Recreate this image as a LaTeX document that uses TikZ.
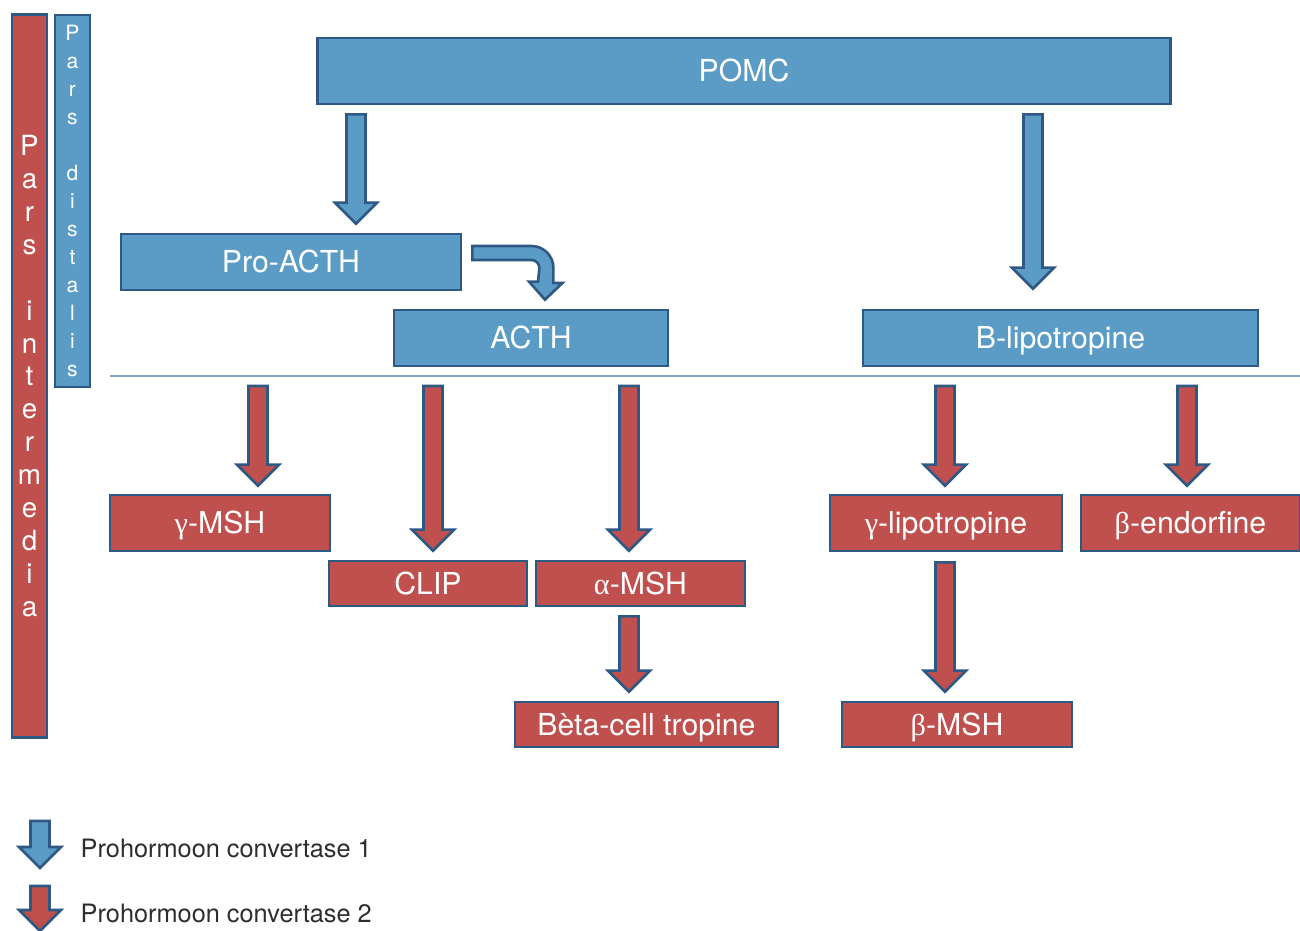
\documentclass[tikz,border=0pt]{standalone}
\usepackage{fontspec}
\setmainfont{TeX Gyre Heros}
\newfontfamily\grk{Liberation Serif}
\usetikzlibrary{calc}
\definecolor{pcblue}{RGB}{91,156,198}
\definecolor{pcred}{RGB}{192,80,78}
\definecolor{pcedge}{RGB}{46,89,132}
\definecolor{sepline}{RGB}{130,165,195}
\definecolor{legtext}{RGB}{45,45,45}
\tikzstyle{distalis} = [
    rectangle, draw=pcedge, fill=pcblue, line width=0.75pt,
    text=white, inner sep=0pt, font=\fontsize{8.6}{10}\selectfont,
    text height=6.2pt, text depth=0pt
]
\tikzstyle{intermedia} = [distalis, fill=pcred]
\tikzstyle{sidebar} = [distalis, text height=, text depth=, align=center]
\tikzstyle{pcone} = [draw=pcedge, fill=pcblue, line width=0.75pt, line join=miter]
\tikzstyle{pctwo} = [pcone, fill=pcred]
\tikzstyle{legend} = [anchor=west, inner sep=0pt, text=legtext,
    font=\fontsize{7.2}{8.5}\selectfont]
% fat block arrow: style, start of shaft, tip
\newcommand{\fatarrow}[3]{%
    \coordinate (fa-s) at (#2);
    \coordinate (fa-t) at (#3);
    \draw[#1] ($(fa-s)+(-9.5,0)$) -- ($(fa-s)+(9.5,0)$)
        -- ($(fa-t)+(9.5,-21)$) -- ($(fa-t)+(21,-21)$) -- (fa-t)
        -- ($(fa-t)+(-21,-21)$) -- ($(fa-t)+(-9.5,-21)$) -- cycle;}
\begin{document}
\begin{tikzpicture}[x=0.01cm, y=-0.01cm]
        \useasboundingbox (0,0) rectangle (1300,931);

        % Side bars
        \node[sidebar, fill=pcred, minimum width=0.35cm, minimum height=7.22cm,
              font=\fontsize{7.9}{9.36}\selectfont] (inter) at (29.5,376)
            {P\\a\\r\\s\\[9.36pt]i\\n\\t\\e\\r\\m\\e\\d\\i\\a};
        \node[sidebar, minimum width=0.35cm, minimum height=3.72cm,
              font=\fontsize{6}{7.94}\selectfont] (dist) at (72.5,201)
            {P\\a\\r\\s\\[7.94pt]d\\i\\s\\t\\a\\l\\i\\s};

        % Pars distalis
        \node[distalis, minimum width=8.52cm, minimum height=0.66cm] (pomc)
            at (744,71) {POMC};
        \node[distalis, minimum width=3.40cm, minimum height=0.56cm] (proacth)
            at (291,262) {Pro-ACTH};
        \node[distalis, minimum width=2.74cm, minimum height=0.56cm] (acth)
            at (531,338) {ACTH};
        \node[distalis, minimum width=3.95cm, minimum height=0.56cm] (blipo)
            at (1060.5,338) {B-lipotropine};

        % Divider
        \coordinate (sepL) at (110,376);
        \coordinate (sepR) at (1300,376);
        \draw[sepline, line width=0.6pt] (sepL) -- (sepR);

        % Pars intermedia
        \node[intermedia, minimum width=2.20cm, minimum height=0.56cm] (gmsh)
            at (220,523) {{\grk γ}-MSH};
        \node[intermedia, minimum width=1.98cm, minimum height=0.45cm] (clip)
            at (428,583.5) {CLIP};
        \node[intermedia, minimum width=2.09cm, minimum height=0.45cm] (amsh)
            at (640.5,583.5) {{\grk α}-MSH};
        \node[intermedia, minimum width=2.63cm, minimum height=0.45cm] (betacell)
            at (646.5,724.5) {Bèta-cell tropine};
        \node[intermedia, minimum width=2.32cm, minimum height=0.56cm] (glipo)
            at (946,523) {{\grk γ}-lipotropine};
        \node[intermedia, minimum width=2.19cm, minimum height=0.56cm] (bendo)
            at (1190.5,523) {{\grk β}-endorfine};
        \node[intermedia, minimum width=2.30cm, minimum height=0.45cm] (bmsh)
            at (957,724.5) {{\grk β}-MSH};

        % Legend
        \node[legend] (leg1) at (80,848) {Prohormoon convertase 1};
        \node[legend] (leg2) at (80,913) {Prohormoon convertase 2};

        % Arrows, convertase 1
        \fatarrow{pcone}{$(356,0 |- pomc.south)+(0,9)$}{$(356,0 |- proacth.north)+(0,-9)$}
        \fatarrow{pcone}{$(1033,0 |- pomc.south)+(0,9)$}{$(1033,0 |- blipo.north)+(0,-20)$}
        \coordinate (bend) at ($(proacth.east)+(69,6)$);
        \draw[pcone] ($(proacth.east)+(10,-16)$) -- ($(bend)+(0,-22)$)
            arc[start angle=-90, end angle=0, radius=22] -- ++(0,15) -- ++(9,0)
            -- ($(acth.north)+(14,-9)$) -- ++(-16,-18) -- ++(9,0)
            -- ($(bend)+(8,0)$) arc[start angle=0, end angle=-90, radius=8]
            -- ($(proacth.east)+(10,-2)$) -- cycle;

        % Arrows, convertase 2
        \fatarrow{pctwo}{$(258,0 |- sepL)+(0,10)$}{$(258,0 |- gmsh.north)+(0,-8)$}
        \fatarrow{pctwo}{$(433,0 |- sepL)+(0,10)$}{$(433,0 |- clip.north)+(0,-9)$}
        \fatarrow{pctwo}{$(629,0 |- sepL)+(0,10)$}{$(629,0 |- amsh.north)+(0,-9)$}
        \fatarrow{pctwo}{$(945,0 |- sepL)+(0,10)$}{$(945,0 |- glipo.north)+(0,-8)$}
        \fatarrow{pctwo}{$(1187,0 |- sepL)+(0,10)$}{$(1187,0 |- bendo.north)+(0,-8)$}
        \fatarrow{pctwo}{$(629,0 |- amsh.south)+(0,9)$}{$(629,0 |- betacell.north)+(0,-9)$}
        \fatarrow{pctwo}{$(945,0 |- glipo.south)+(0,10)$}{$(945,0 |- bmsh.north)+(0,-9)$}

        % Legend arrows
        \fatarrow{pcone}{$(leg1.west)+(-40,-27)$}{$(leg1.west)+(-40,20)$}
        \fatarrow{pctwo}{$(leg2.west)+(-40,-27)$}{$(leg2.west)+(-40,18)$}
    \end{tikzpicture}
\end{document}
